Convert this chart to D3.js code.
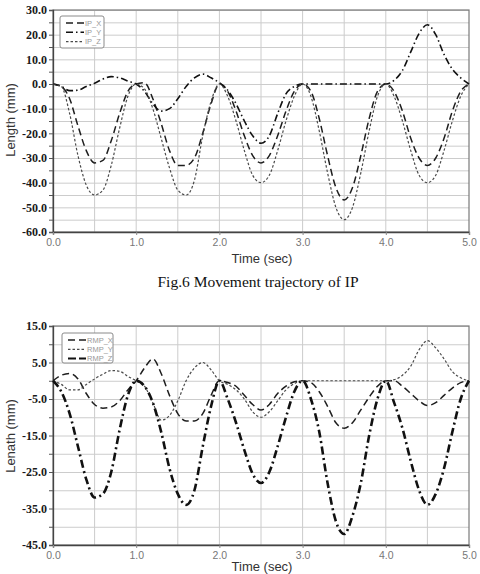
<!DOCTYPE html>
<html>
<head>
<meta charset="utf-8">
<script src="https://cdn.jsdelivr.net/npm/d3@7"></script>
<style>
  body { margin: 0; background: #fff; }
  svg { display: block; }
  .ylab { font-family: "Liberation Serif", "DejaVu Serif", serif; font-weight: bold; font-size: 12px; }
</style>
</head>
<body>
<svg id="chart" width="480" height="574"></svg>
<script>
// sample times (sec)
const times = [0,0.1,0.2,0.3,0.4,0.5,0.6,0.7,0.8,0.9,1.0,1.1,1.2,1.3,1.4,1.5,1.6,1.7,1.8,1.9,2.0,
  2.1,2.2,2.3,2.4,2.5,2.6,2.7,2.8,2.9,3.0,3.1,3.2,3.3,3.4,3.5,3.6,3.7,3.8,3.9,4.0,
  4.1,4.2,4.3,4.4,4.5,4.6,4.7,4.8,4.9,5.0];

// Fig.6 - IP
const ipX = [0,-1,-6,-17,-27,-32,-31,-23,-12,-3,0, 0.5,-6,-16,-27,-33,-33,-30,-20,-8,0,
  -3,-11,-21,-29,-32,-29,-21,-11,-3,0, -3,-14,-29,-42,-47,-42,-29,-14,-3,0,
  -3,-11,-22,-30,-33,-30,-22,-11,-3,0];
const ipY = [0,-1,-2.7,-2.5,-1,0.3,2,3,2.5,1.2,0, -3,-8,-11,-10,-6,-1,2.5,4,2.5,0.5,
  -2.5,-8,-15,-21,-24,-21,-12,-4,-1,0, 0,0,0,0,0,0,0,0,0,0,
  1.5,5.5,13,20.5,24,20,12,6,2.5,0];
const ipZ = [0,-1,-12,-29,-41,-45,-43,-33,-18,-5,0, -2,-10,-22,-34,-43,-45,-39,-21,-7,0,
  -5,-15,-27,-37,-40,-37,-27,-15,-5,0, -5,-19,-36,-50,-55,-50,-36,-19,-5,0,
  -5,-15,-27,-37,-40,-37,-27,-15,-5,0];

// RMP
const rmpX = [0,1.5,2,0.5,-3.5,-6.5,-7.5,-7.2,-5.5,-2.5,0, 3.5,6,2,-4,-9,-11,-11,-9,-4,0,
  -0.5,-1.5,-4,-6.5,-8,-6.5,-3.5,-1.5,-0.3,0, -0.5,-3,-7,-11.5,-13,-11.5,-8,-4.5,-1.5,0,
  0,-1.5,-3.5,-5.5,-6.8,-6,-4,-2,-0.5,0];
const rmpY = [0,-1,-2.5,-2.5,-1,0.5,1.8,2.8,2.6,1.2,0, -1.5,-6,-10.8,-9.5,-5.5,0,3.5,5,3,0,
  -1,-2.5,-5,-8.5,-10,-8.5,-5.5,-2.5,-0.8,0, 0,0,0,0,0,0,0,0,0,0,
  0.3,1.5,4,8.5,11,9,6,2.5,0.8,0];
const rmpZ = [0,-3,-9,-18,-27,-32,-31,-25,-13.5,-4,0, -1.5,-6,-14,-24,-31,-34,-30,-18,-7,0,
  -5,-11.5,-19,-25.5,-28,-25,-18,-10,-3,0, -5,-14,-28,-38.5,-42,-37,-28,-15,-5,0,
  -6,-13,-22,-30,-34,-31,-24,-14,-5,0];

const xTicks = [0,1,2,3,4,5];
const xGrid = [0.5,1,1.5,2,2.5,3,3.5,4,4.5];
const ipYLabels = [30,20,10,0,-10,-20,-30,-40,-50,-60];
const ipYSteps = [30,25,20,15,10,5,0,-5,-10,-15,-20,-25,-30,-35,-40,-45,-50,-55,-60];
const rmpYLabels = [15,5,-5,-15,-25,-35,-45];
const rmpYSteps = [15,10,5,0,-5,-10,-15,-20,-25,-30,-35,-40,-45];

const ipNames = ["IP_X", "IP_Y", "IP_Z"];
const rmpNames = ["RMP_X", "RMP_Y", "RMP_Z"];

const svg = d3.select("#chart");

function drawChart(opts) {
    const x = d3.scaleLinear().domain([0, 5]).range([53, 469]);
    const y = d3.scaleLinear().domain(opts.yDomain).range([opts.bottom, opts.top]);
    const g = svg.append("g");

    // grid
    g.append("g").selectAll("line").data(xGrid).join("line")
        .attr("x1", d => x(d)).attr("x2", d => x(d))
        .attr("y1", opts.top).attr("y2", opts.bottom)
        .attr("stroke", "#cccccc").attr("stroke-width", 1);
    g.append("g").selectAll("line").data(opts.ySteps).join("line")
        .attr("x1", x(0)).attr("x2", x(5))
        .attr("y1", d => y(d) + 0.5).attr("y2", d => y(d) + 0.5)
        .attr("stroke", "#cccccc").attr("stroke-width", 1);

    // frame
    g.append("rect")
        .attr("x", x(0)).attr("y", opts.top)
        .attr("width", x(5) - x(0)).attr("height", opts.bottom - opts.top)
        .attr("fill", "none").attr("stroke", "#7a7a7a").attr("stroke-width", 1.2);

    // left axis
    const yAxis = d3.axisLeft(y).tickValues(opts.ySteps).tickSize(4).tickPadding(2)
        .tickFormat(d => opts.yLabels.includes(d) ? d.toFixed(1) : "");
    const ya = g.append("g").attr("transform", `translate(${x(0)},0)`).call(yAxis);
    ya.attr("font-family", null).attr("font-size", null);
    ya.select(".domain").attr("stroke", "#444").attr("stroke-width", 1.3);
    ya.selectAll(".tick line").attr("stroke", "#555");
    ya.selectAll("text").attr("class", "ylab").attr("fill", "#1a1a1a");

    // bottom axis
    const xAxis = d3.axisBottom(x).tickValues(xTicks).tickSize(3).tickPadding(4)
        .tickFormat(d => d.toFixed(1));
    const xa = g.append("g").attr("transform", `translate(0,${opts.bottom})`).call(xAxis);
    xa.select(".domain").attr("stroke", "#444").attr("stroke-width", 1.3);
    xa.selectAll(".tick line").attr("stroke", "#888");
    xa.selectAll("text")
        .attr("font-family", "'Liberation Sans', Arial, sans-serif")
        .attr("font-size", "10.5px").attr("fill", "#777");

    // axis titles
    svg.append("text")
        .attr("transform", `translate(15,${opts.yTitleY}) rotate(-90)`)
        .attr("text-anchor", "middle")
        .attr("font-family", "'Liberation Sans', Arial, sans-serif")
        .attr("font-size", "13px").attr("fill", "#333")
        .text(opts.yTitle);
    svg.append("text")
        .attr("x", 262).attr("y", opts.xTitleY)
        .attr("text-anchor", "middle")
        .attr("font-family", "'Liberation Sans', Arial, sans-serif")
        .attr("font-size", "13px").attr("fill", "#333")
        .text("Time (sec)");

    // series
    const line = d3.line().x((d, i) => x(times[i])).y(d => y(d)).curve(d3.curveMonotoneX);
    opts.series.forEach(s => {
        g.append("path")
            .datum(s.values)
            .attr("d", line)
            .attr("fill", "none")
            .attr("stroke", s.color)
            .attr("stroke-width", s.width)
            .attr("stroke-dasharray", s.dash);
    });

    // legend
    const lg = g.append("g").attr("transform", `translate(${opts.legend.x},${opts.legend.y})`);
    lg.append("rect")
        .attr("width", opts.legend.w).attr("height", opts.legend.h).attr("rx", 2)
        .attr("fill", "#fff").attr("stroke", "#8a8a8a").attr("stroke-width", 1);
    opts.series.forEach((s, i) => {
        const ly = 7 + i * 9.3;
        lg.append("line")
            .attr("x1", 6).attr("x2", 24).attr("y1", ly).attr("y2", ly)
            .attr("stroke", s.color).attr("stroke-width", Math.min(s.width, 2))
            .attr("stroke-dasharray", s.legendDash || s.dash);
        lg.append("text")
            .attr("x", 25).attr("y", ly + 2.5)
            .attr("font-family", "'Liberation Sans', Arial, sans-serif")
            .attr("font-size", "7.5px").attr("fill", "#999")
            .text(opts.names[i]);
    });
}

drawChart({
    top: 10, bottom: 232, yDomain: [-60, 30],
    ySteps: ipYSteps, yLabels: ipYLabels,
    yTitle: "Length (mm)", yTitleY: 120, xTitleY: 263,
    names: ipNames,
    legend: {x: 60, y: 16, w: 44, h: 32},
    series: [
        {values: ipX, color: "#1e1e1e", width: 1.5, dash: "7,4"},
        {values: ipY, color: "#111", width: 1.6, dash: "7,3,1.5,3"},
        {values: ipZ, color: "#4a4a4a", width: 1.2, dash: "2.5,2"}
    ]
});

svg.append("text")
    .attr("x", 258).attr("y", 287)
    .attr("text-anchor", "middle")
    .attr("font-family", "'Liberation Serif', 'Times New Roman', serif")
    .attr("font-size", "15.5px").attr("fill", "#111")
    .text("Fig.6 Movement trajectory of IP");

drawChart({
    top: 326, bottom: 545, yDomain: [-45, 15],
    ySteps: rmpYSteps, yLabels: rmpYLabels,
    yTitle: "Lenath (mm)", yTitleY: 436, xTitleY: 571,
    names: rmpNames,
    legend: {x: 62, y: 333, w: 51, h: 30},
    series: [
        {values: rmpX, color: "#1e1e1e", width: 1.5, dash: "7,4"},
        {values: rmpY, color: "#4a4a4a", width: 1.2, dash: "2.5,2"},
        {values: rmpZ, color: "#111", width: 2.6, dash: "8,3.5,2,3.5", legendDash: "8,3"}
    ]
});
</script>
</body>
</html>
